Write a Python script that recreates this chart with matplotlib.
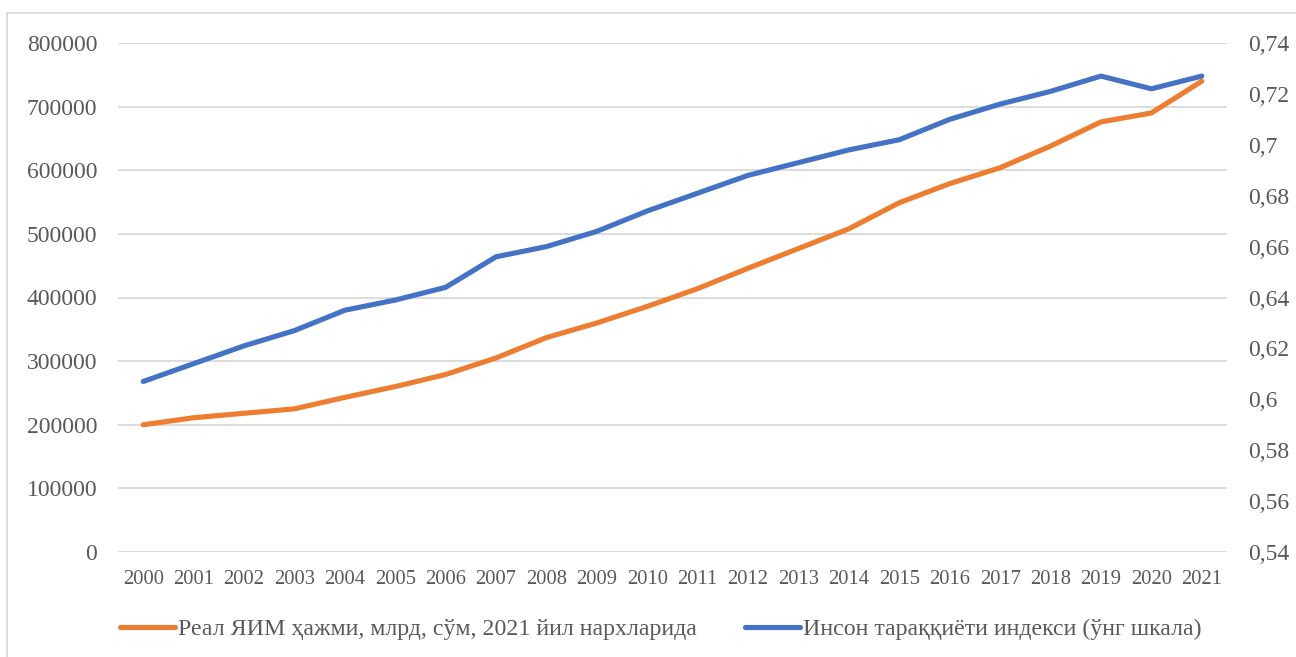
import matplotlib
matplotlib.use("Agg")
import matplotlib.pyplot as plt
from matplotlib.ticker import FuncFormatter, MultipleLocator
from matplotlib.lines import Line2D

years = [str(y) for y in range(2000, 2022)]
gdp = [200000, 211000, 218000, 225000, 243000, 260000, 279000, 305000, 337000, 360000,
       386000, 414000, 446000, 477000, 508000, 549000, 579000, 604000, 638000, 676000,
       690000, 740000]
hdi = [0.607, 0.614, 0.621, 0.627, 0.635, 0.639, 0.644, 0.656, 0.660, 0.666,
       0.674, 0.681, 0.688, 0.693, 0.698, 0.702, 0.710, 0.716, 0.721, 0.727,
       0.722, 0.727]
gdp_label = "Реал ЯИМ ҳажми, млрд, сўм, 2021 йил нархларида"
hdi_label = "Инсон тараққиёти индекси (ўнг шкала)"

ORANGE = "#ED7D31"
BLUE = "#4472C4"
TXT = "#595959"
GRID = "#D9D9D9"

plt.rcParams['font.family'] = ['Liberation Serif', 'DejaVu Serif']

fig = plt.figure(figsize=(12.96, 6.57), dpi=100)
ax = fig.add_axes([118/1296, 1-552/657, (1227-118)/1296, (552-43)/657])
ax2 = ax.twinx()

x = list(range(len(years)))
l1, = ax.plot(x, gdp, color=ORANGE, lw=3.7, solid_capstyle='round', solid_joinstyle='round',
              label=gdp_label, zorder=3)
l2, = ax2.plot(x, hdi, color=BLUE, lw=3.7, solid_capstyle='round', solid_joinstyle='round',
               label=hdi_label, zorder=3)

ax.set_xlim(-0.5, len(years) - 0.5)
ax.set_ylim(0, 800000)
ax.yaxis.set_major_locator(MultipleLocator(100000))
ax.yaxis.set_major_formatter(FuncFormatter(lambda v, p: f"{int(v)}"))
ax2.set_ylim(0.54, 0.74)
ax2.yaxis.set_major_locator(MultipleLocator(0.02))
ax2.yaxis.set_major_formatter(FuncFormatter(lambda v, p: f"{round(v, 2):g}".replace('.', ',')))

ax.set_xticks(x)
ax.set_xticklabels(years)

for a in (ax, ax2):
    for s in a.spines.values():
        s.set_visible(False)
    a.tick_params(length=0)

ax.grid(axis='y', color=GRID, lw=1.3)
ax.set_axisbelow(True)
ax.tick_params(axis='y', labelsize=17, colors=TXT, pad=15)
ax.tick_params(axis='x', labelsize=14.8, colors=TXT, pad=13)
ax2.tick_params(axis='y', labelsize=17, colors=TXT, pad=15)

leg = fig.legend(handles=[l1, l2], loc='center', bbox_to_anchor=(0.5 + 13/1296, 1-629/657), ncol=2,
                 frameon=False, fontsize=17.2, handlelength=2.3, handletextpad=0.13,
                 columnspacing=2.0)
for t in leg.get_texts():
    t.set_color(TXT)

fig.add_artist(Line2D([7/1296, 7/1296], [0, 1-12.5/657], color=GRID, lw=1.3, transform=fig.transFigure))
fig.add_artist(Line2D([7/1296, 1], [1-12.5/657, 1-12.5/657], color=GRID, lw=1.3, transform=fig.transFigure))

fig.savefig("out.png", dpi=100)
